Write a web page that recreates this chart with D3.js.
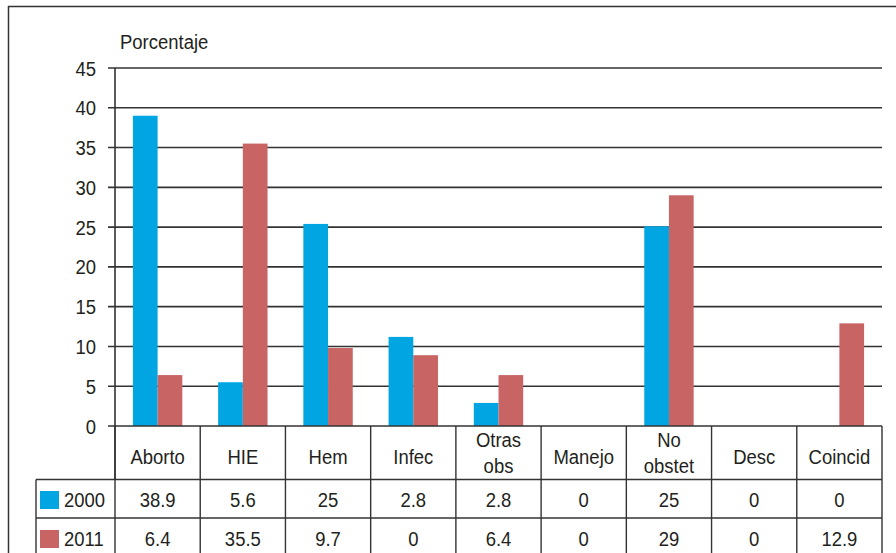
<!DOCTYPE HTML>
<html>
<head>
<meta charset="utf-8">
<style>
  body { margin: 0; background: #fff; }
  text { font-family: "Liberation Sans", Arial, sans-serif; fill: #231f20; font-size: 21px; }
</style>
</head>
<body>
<script src="https://cdn.jsdelivr.net/npm/d3@7"></script>
<script>
// categories (header text may wrap onto two lines)
var categories = ["Aborto", "HIE", "Hem", "Infec", "Otras obs", "Manejo", "No obstet", "Desc", "Coincid"];
var headerLines = [["Aborto"], ["HIE"], ["Hem"], ["Infec"], ["Otras", "obs"], ["Manejo"], ["No", "obstet"], ["Desc"], ["Coincid"]];
var seriesNames = ["2000", "2011"];
// bar heights as drawn in the picture
var values2000 = [39.0, 5.5, 25.4, 11.2, 2.9, 0, 25.1, 0, 0];
var values2011 = [6.4, 35.5, 9.8, 8.9, 6.4, 0, 29.0, 0, 12.9];
// numbers printed in the table
var table2000 = ["38.9", "5.6", "25", "2.8", "2.8", "0", "25", "0", "0"];
var table2011 = ["6.4", "35.5", "9.7", "0", "6.4", "0", "29", "0", "12.9"];
var yTicks = [0, 5, 10, 15, 20, 25, 30, 35, 40, 45];

var W = 896, H = 553;
var colors = ["#00a5e2", "#c86464"];
var lineCol = "#333";
var narrow = 0.88; // squeeze text to mimic a condensed face

var svg = d3.select("body").append("svg")
    .attr("width", W)
    .attr("height", H);

function label(g, tx, ty, str, anchor) {
    return g.append("text")
        .attr("transform", "translate(" + tx + "," + ty + ") scale(" + narrow + ",1)")
        .attr("text-anchor", anchor || "start")
        .text(str);
}

// outer frame (top + left)
svg.append("path")
    .attr("d", "M8.5," + H + "V6.5H" + W)
    .attr("fill", "none")
    .attr("stroke", lineCol)
    .attr("stroke-width", 1.5);

var plotL = 115, plotR = 882;
var y = d3.scaleLinear().domain([0, 45]).range([426, 68]);
var x = d3.scaleBand().domain(categories).range([plotL, plotR]).padding(0);
var barW = 24.7;
var xs = d3.scaleBand().domain(seriesNames).range([-barW, barW]);

// grid lines
svg.append("g").selectAll("line")
    .data(yTicks.filter(function(d) { return d > 0; }))
    .enter().append("line")
    .attr("x1", 108).attr("x2", plotR)
    .attr("y1", function(d) { return y(d); })
    .attr("y2", function(d) { return y(d); })
    .attr("stroke", lineCol)
    .attr("stroke-width", 1.6);

// y tick labels
var yLab = svg.append("g");
yTicks.forEach(function(d) {
    label(yLab, 96, y(d) + 7.5, d, "end");
});

label(svg, 120, 49, "Porcentaje");

// bars
var series = [values2000, values2011];
series.forEach(function(vals, si) {
    svg.append("g").selectAll("rect")
        .data(vals)
        .enter().append("rect")
        .attr("x", function(d, i) { return x(categories[i]) + x.bandwidth() / 2 + xs(seriesNames[si]); })
        .attr("width", xs.bandwidth())
        .attr("y", function(d) { return y(d); })
        .attr("height", function(d) { return y(0) - y(d); })
        .attr("fill", colors[si]);
});

// y axis line and zero line
svg.append("line")
    .attr("x1", plotL).attr("x2", plotL)
    .attr("y1", y(45)).attr("y2", 480)
    .attr("stroke", lineCol).attr("stroke-width", 1.6);
svg.append("line")
    .attr("x1", 108).attr("x2", plotR)
    .attr("y1", y(0)).attr("y2", y(0))
    .attr("stroke", lineCol).attr("stroke-width", 1.6);

// data table
var rowTop = [426, 479.5, 518];
var tbl = svg.append("g");
var tableLeft = 36;

// vertical separators
var seps = categories.map(function(c) { return x(c); }).concat([plotR]);
tbl.selectAll("line.v")
    .data(seps)
    .enter().append("line")
    .attr("class", "v")
    .attr("x1", function(d) { return d; })
    .attr("x2", function(d) { return d; })
    .attr("y1", rowTop[0]).attr("y2", H)
    .attr("stroke", lineCol).attr("stroke-width", 1.4);
tbl.append("line")
    .attr("x1", tableLeft).attr("x2", tableLeft)
    .attr("y1", rowTop[1]).attr("y2", H)
    .attr("stroke", lineCol).attr("stroke-width", 1.4);
// horizontal rules
[rowTop[1], rowTop[2]].forEach(function(ry) {
    tbl.append("line")
        .attr("x1", tableLeft).attr("x2", plotR)
        .attr("y1", ry).attr("y2", ry)
        .attr("stroke", lineCol).attr("stroke-width", 1.4);
});

// header text
headerLines.forEach(function(lines, i) {
    var cx = x(categories[i]) + x.bandwidth() / 2;
    var base = lines.length === 1 ? [463.5] : [446.5, 473];
    lines.forEach(function(t, j) {
        label(tbl, cx, base[j], t, "middle");
    });
});

// value rows
var tableRows = [table2000, table2011];
var rowBase = [507, 546];
tableRows.forEach(function(row, ri) {
    tbl.append("rect")
        .attr("x", 40)
        .attr("y", rowBase[ri] - 16)
        .attr("width", 19)
        .attr("height", 18)
        .attr("fill", colors[ri]);
    label(tbl, 64, rowBase[ri], seriesNames[ri]);
    row.forEach(function(t, i) {
        label(tbl, x(categories[i]) + x.bandwidth() / 2, rowBase[ri], t, "middle");
    });
});
</script>
</body>
</html>
